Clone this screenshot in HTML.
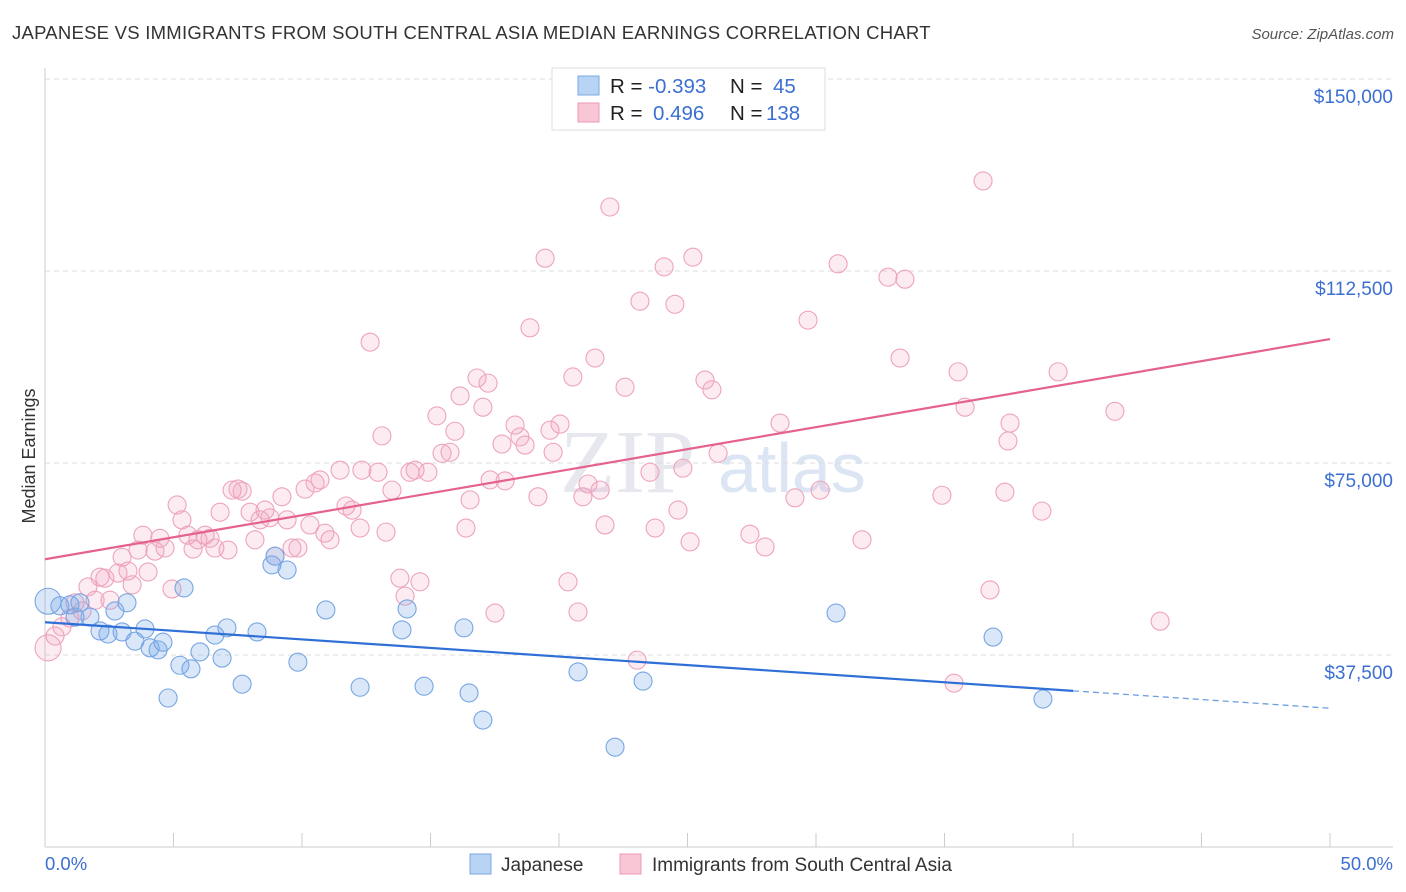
<!DOCTYPE html>
<html><head><meta charset="utf-8">
<style>
body{margin:0;background:#fff;font-family:"Liberation Sans",sans-serif;}
#wrap{position:relative;width:1406px;height:892px;overflow:hidden;}
</style></head>
<body>
<div id="wrap">
<svg id="svg" width="1406" height="892">
<text x="12" y="39" font-size="18.5" fill="#333" letter-spacing="0.25">JAPANESE VS IMMIGRANTS FROM SOUTH CENTRAL ASIA MEDIAN EARNINGS CORRELATION CHART</text>
<text x="1394" y="39" font-size="15" fill="#555" font-style="italic" text-anchor="end">Source: ZipAtlas.com</text>
<text x="35" y="456" font-size="18" fill="#333" text-anchor="middle" transform="rotate(-90 35 456)">Median Earnings</text>
<text x="560" y="492" font-size="90" fill="#ccd" opacity="0.45" font-family="Liberation Serif">ZIP</text>
<text x="718" y="492" font-size="70" fill="#b8cdea" opacity="0.5">atlas</text>
<g id="grid"></g><g id="pts"></g><g id="trend"></g>
<g>
<rect x="552" y="68" width="273" height="62" fill="#fff" stroke="#ddd"/>
<rect x="578" y="76" width="21" height="19" fill="#b8d4f5" stroke="#7aa8e6"/>
<rect x="578" y="103" width="21" height="19" fill="#f9c6d5" stroke="#ec99b3"/>
<text x="610" y="93" font-size="20.5" fill="#222">R = <tspan fill="#3b6fd1">-0.393</tspan><tspan x="730">N = </tspan><tspan x="773" fill="#3b6fd1">45</tspan></text>
<text x="610" y="120" font-size="20.5" fill="#222">R = <tspan x="653" fill="#3b6fd1">0.496</tspan><tspan x="730">N = </tspan><tspan x="766" fill="#3b6fd1">138</tspan></text>
</g>
<g>
<rect x="470" y="854" width="21" height="20" fill="#b8d4f5" stroke="#7aa8e6"/>
<text x="501" y="871" font-size="19" fill="#333">Japanese</text>
<rect x="620" y="854" width="21" height="20" fill="#f9c6d5" stroke="#ec99b3"/>
<text x="652" y="871" font-size="19" fill="#333">Immigrants from South Central Asia</text>
</g>
</svg>
</div>
<script>
const yTicks=[37500,75000,112500,150000];
const yTickLabels=["$37,500","$75,000","$112,500","$150,000"];
const blueX=[.12,.58,.97,1.36,1.75,1.17,2.14,2.45,2.72,3.0,3.19,3.5,3.89,4.09,4.4,4.59,4.79,5.25,5.41,5.68,6.03,6.61,6.89,7.08,7.67,8.25,8.83,8.95,9.42,9.84,10.93,12.26,13.89,14.09,14.75,16.3,16.5,17.04,20.74,22.18,23.27,30.78,36.89,38.83];
const blueY=[48.0,47.1,47.3,47.7,44.9,44.9,42.2,41.6,46.1,42.0,47.7,40.2,42.6,38.9,38.5,40.0,29.1,35.5,50.6,34.8,38.1,41.4,36.9,42.8,31.8,42.0,55.1,56.8,54.1,36.1,46.3,31.2,42.4,46.5,31.4,42.8,30.1,24.8,34.2,19.5,32.4,45.7,41.0,28.9];
const pinkX=[.12,.39,.66,.97,1.17,1.44,1.67,1.95,2.14,2.33,2.53,2.84,3.0,3.23,3.39,3.62,3.81,4.01,4.28,4.47,4.67,4.94,5.14,5.33,5.56,5.76,5.95,6.23,6.42,6.61,6.81,7.12,7.28,7.51,7.67,7.98,8.17,8.37,8.56,8.75,8.95,9.22,9.42,9.61,9.84,10.12,10.31,10.51,10.7,10.89,11.09,11.48,11.71,11.95,12.26,12.33,12.65,12.96,13.11,13.27,13.5,13.81,14.01,14.2,14.4,14.59,14.9,15.25,15.45,15.76,15.95,16.15,16.38,16.54,16.81,17.04,17.24,17.32,17.51,17.78,17.9,18.29,18.48,18.68,18.87,19.18,19.46,19.65,19.77,20.04,20.35,20.54,20.74,20.93,21.13,21.4,21.6,21.79,21.98,22.57,23.15,23.54,23.74,24.09,24.51,24.63,24.82,25.1,25.21,25.68,25.95,26.19,27.43,28.02,28.6,29.18,29.69,30.16,30.86,31.79,32.8,33.46,33.27,34.9,35.37,35.53,35.8,36.77,36.5,37.35,37.47,37.55,38.79,39.42,41.63,43.39,23.04];
const pinkY=[38.9,41.2,43.0,44.7,47.7,46.1,50.8,48.2,52.7,52.5,48.2,53.5,56.6,53.9,51.2,58.0,60.9,53.7,57.8,60.3,58.4,50.4,66.8,63.9,60.9,58.2,60.0,60.9,60.3,58.4,65.4,58.0,69.7,69.9,69.5,65.4,60.0,63.9,65.8,64.3,56.8,68.4,63.9,58.4,58.4,69.9,62.9,71.1,71.7,61.3,60.0,73.6,66.6,65.8,62.3,73.6,98.6,73.2,80.3,61.5,69.7,52.5,49.0,73.2,73.6,51.8,73.2,84.2,76.9,77.1,81.2,88.1,62.3,67.8,91.6,85.9,90.6,71.7,45.7,78.7,71.5,82.4,80.1,78.5,101.4,68.4,115.0,81.4,77.1,82.6,51.8,91.8,45.9,68.4,70.9,95.5,69.7,62.9,125.0,89.8,106.6,73.2,62.3,113.3,106.0,65.8,74.0,59.6,115.2,91.2,89.3,76.9,61.1,58.6,82.8,68.2,102.9,69.7,113.9,60.0,111.3,110.9,95.5,68.7,32.0,92.8,85.9,50.2,130.1,69.3,79.3,82.8,65.6,92.8,85.1,44.1,36.5];
const blueTrendX=[0,40,50];
const blueTrendY=[43.9,30.5,27.1];
const pinkTrendX=[0,50];
const pinkTrendY=[56.2,99.2];
const NS="http://www.w3.org/2000/svg";
const xs=v=>45+v*25.7;
const ys=v=>847-v*1000/37500*192;
function mk(tag,at,parent){const e=document.createElementNS(NS,tag);for(const k in at)e.setAttribute(k,at[k]);parent.appendChild(e);return e;}
const grid=document.getElementById('grid');
mk('line',{x1:45,y1:847,x2:1393,y2:847,stroke:'#ccc'},grid);
mk('line',{x1:45,y1:68,x2:45,y2:847,stroke:'#ccc'},grid);
for(let i=0;i<=10;i++){const l=mk('line',{x1:xs(i*5),y1:833,x2:xs(i*5),y2:847,stroke:'#ccc'},grid);

}
yTicks.forEach((t,i)=>{const y=ys(t/1000);
const l=mk('line',{x1:45,y1:y,x2:1393,y2:y,stroke:'#ddd','stroke-dasharray':'5,4'},grid);


const tx=mk('text',{x:1393,y:y+24,'font-size':19,fill:'#3b6fd1','text-anchor':'end'},grid);tx.textContent=yTickLabels[i];

});
const x0=mk('text',{x:45,y:870,'font-size':18.5,fill:'#3b6fd1'},grid);x0.textContent='0.0%';


const x1=mk('text',{x:1393,y:870,'font-size':18.5,fill:'#3b6fd1','text-anchor':'end'},grid);x1.textContent='50.0%';


const pts=document.getElementById('pts');
pinkX.forEach((x,i)=>{const c=mk('circle',{cx:xs(x),cy:ys(pinkY[i]),r:i==0?13:9,fill:'rgba(242,160,188,0.2)',stroke:'#eea3bb','stroke-width':1.1},pts);

});
blueX.forEach((x,i)=>{const c=mk('circle',{cx:xs(x),cy:ys(blueY[i]),r:i==0?13:9,fill:'rgba(120,168,232,0.28)',stroke:'#78a6e2','stroke-width':1.1},pts);

});
const tr=document.getElementById('trend');
const b1=mk('line',{x1:xs(blueTrendX[0]),y1:ys(blueTrendY[0]),x2:xs(blueTrendX[1]),y2:ys(blueTrendY[1]),stroke:'#2f6fd6','stroke-width':2.2},tr);


const b2=mk('line',{x1:xs(blueTrendX[1]),y1:ys(blueTrendY[1]),x2:xs(blueTrendX[2]),y2:ys(blueTrendY[2]),stroke:'#6d9fe0','stroke-width':1.3,'stroke-dasharray':'6,4'},tr);


const p1=mk('line',{x1:xs(pinkTrendX[0]),y1:ys(pinkTrendY[0]),x2:xs(pinkTrendX[1]),y2:ys(pinkTrendY[1]),stroke:'#e4628c','stroke-width':2.2},tr);


</script>
</body></html>
